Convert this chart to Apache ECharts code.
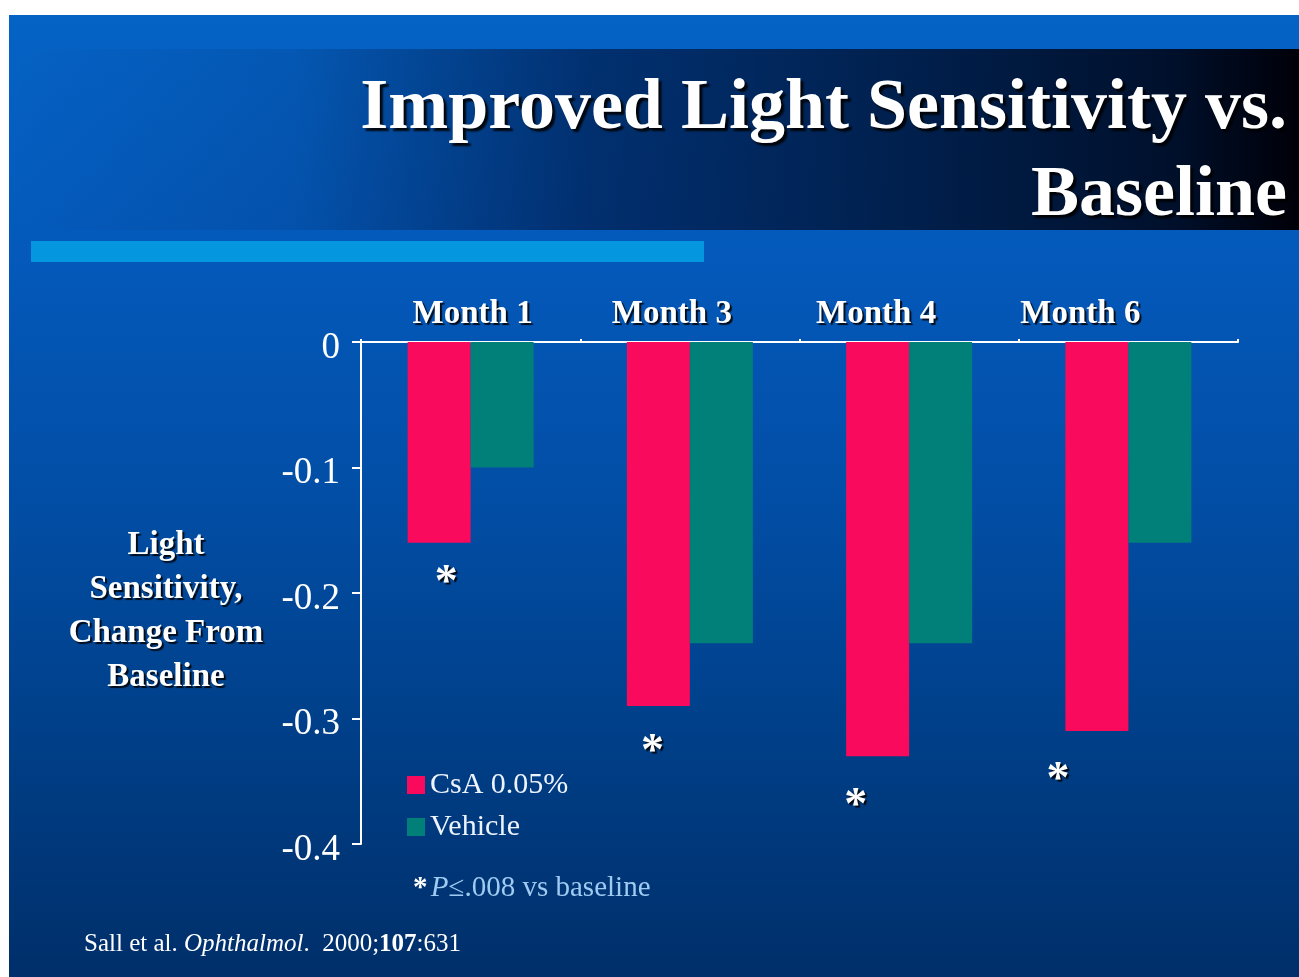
<!DOCTYPE html>
<html>
<head>
<meta charset="utf-8">
<title>Improved Light Sensitivity vs. Baseline</title>
<script src="https://cdn.jsdelivr.net/npm/echarts@6/dist/echarts.min.js"></script>
<style>
  html, body { margin: 0; padding: 0; background: #ffffff; }
  #chart { width: 1299px; height: 977px; }
</style>
</head>
<body>
<div id="chart"></div>
<script>
// Change from baseline in light sensitivity, by visit
const months = ['Month 1', 'Month 3', 'Month 4', 'Month 6'];
const csaValues = [-0.16, -0.29, -0.33, -0.31];
const vehicleValues = [-0.10, -0.24, -0.24, -0.16];
const seriesNames = ['CsA 0.05%', 'Vehicle'];
const yTicks = [0, -0.1, -0.2, -0.3, -0.4];

// significance marks sit under the CsA bars; small per-bar nudges [dx, dy]
const starNudge = [[7, 0], [-6, 6], [-22, 10], [-39, 9]];
// month headings drift left of their category centres (px)
const monthLabelShift = [2, -18, -33, -48];

const SERIF = '"Liberation Serif", "DejaVu Serif", serif';
const shadow = {
  textShadowColor: 'rgba(0,0,0,0.85)',
  textShadowOffsetX: 2,
  textShadowOffsetY: 2,
  textShadowBlur: 1
};
const titleStyle = {
  font: 'bold 72px ' + SERIF,
  fill: '#ffffff',
  textShadowColor: 'rgba(0,0,0,0.9)',
  textShadowOffsetX: 3,
  textShadowOffsetY: 3,
  textShadowBlur: 2
};

const chart = echarts.init(document.getElementById('chart'), null, { renderer: 'canvas' });

const option = {
  animation: false,
  backgroundColor: '#ffffff',
  graphic: {
    elements: [
      // slide background
      {
        type: 'rect', z: -100, silent: true,
        shape: { x: 9, y: 15, width: 1290, height: 962 },
        style: {
          fill: new echarts.graphic.LinearGradient(0, 0, 0, 1, [
            { offset: 0, color: '#0563c6' },
            { offset: 0.25, color: '#0459ba' },
            { offset: 0.5, color: '#024ea6' },
            { offset: 0.75, color: '#003f88' },
            { offset: 1, color: '#002f6a' }
          ])
        }
      },
      // title band
      {
        type: 'rect', z: -90, silent: true,
        shape: { x: 9, y: 49, width: 1290, height: 181 },
        style: {
          fill: new echarts.graphic.LinearGradient(0, 0, 1, 0, [
            { offset: 0, color: 'rgba(0,30,80,0)' },
            { offset: 0.22, color: 'rgba(0,30,80,0.15)' },
            { offset: 0.45, color: 'rgba(0,32,84,0.75)' },
            { offset: 0.7, color: 'rgba(0,28,70,0.95)' },
            { offset: 0.9, color: '#00102c' },
            { offset: 1, color: '#000008' }
          ])
        }
      },
      // accent stripe under the title
      {
        type: 'rect', z: -80, silent: true,
        shape: { x: 31, y: 241, width: 673, height: 21 },
        style: { fill: '#0496de' }
      },
      // title, two right-aligned lines
      {
        type: 'text', z: 100, silent: true,
        right: 12, top: 73,
        style: Object.assign({ text: 'Improved Light Sensitivity vs.' }, titleStyle)
      },
      {
        type: 'text', z: 100, silent: true,
        right: 12, top: 160,
        style: Object.assign({ text: 'Baseline' }, titleStyle)
      },
      // y axis title
      {
        type: 'text', z: 100, silent: true,
        x: 166, y: 523,
        style: {
          text: 'Light\nSensitivity,\nChange From\nBaseline',
          align: 'center',
          font: 'bold 33px ' + SERIF,
          lineHeight: 44,
          fill: '#ffffff',
          textShadowColor: 'rgba(0,0,0,0.85)',
          textShadowOffsetX: 2,
          textShadowOffsetY: 2,
          textShadowBlur: 1
        }
      },
      // significance footnote
      {
        type: 'text', z: 100, silent: true,
        x: 413, y: 874,
        style: {
          text: '{s|*} {i|P}{n|≤.008 vs baseline}',
          rich: {
            s: { font: 'bold 29px ' + SERIF, fill: '#ffffff' },
            i: { font: 'italic 29px ' + SERIF, fill: '#9fcaf2' },
            n: { font: '29px ' + SERIF, fill: '#9fcaf2' }
          }
        }
      },
      // citation
      {
        type: 'text', z: 100, silent: true,
        x: 84, y: 932,
        style: {
          text: '{r|Sall et al. }{i|Ophthalmol}{r|.  2000;}{b|107}{r|:631}',
          rich: {
            r: { font: '25px ' + SERIF, fill: '#ffffff' },
            i: { font: 'italic 25px ' + SERIF, fill: '#ffffff' },
            b: { font: 'bold 25px ' + SERIF, fill: '#ffffff' }
          }
        }
      }
    ]
  },
  legend: {
    data: seriesNames,
    orient: 'vertical',
    left: 402,
    top: 765,
    itemWidth: 18,
    itemHeight: 18,
    itemGap: 12,
    icon: 'rect',
    textStyle: { color: '#eef4ff', fontSize: 30, lineHeight: 24, fontFamily: SERIF }
  },
  grid: { left: 361, right: 61, top: 342, bottom: 133 },
  xAxis: {
    type: 'category',
    data: months.map((m, i) => {
      const s = monthLabelShift[i];
      return {
        value: m,
        textStyle: { padding: s < 0 ? [0, -2 * s, 0, 0] : [0, 0, 0, 2 * s] }
      };
    }),
    position: 'top',
    axisLine: { lineStyle: { color: '#ffffff', width: 2 } },
    axisTick: { show: true, length: 3, inside: false, lineStyle: { color: '#ffffff', width: 2 } },
    axisLabel: Object.assign({
      color: '#ffffff',
      fontSize: 33,
      fontWeight: 'bold',
      fontFamily: SERIF,
      margin: 11
    }, shadow),
    splitLine: { show: false }
  },
  yAxis: {
    type: 'value',
    min: -0.4,
    max: 0,
    interval: 0.1,
    axisLine: { show: true, lineStyle: { color: '#ffffff', width: 2 } },
    axisTick: { show: true, length: 9, lineStyle: { color: '#ffffff', width: 2 } },
    axisLabel: {
      color: '#ffffff',
      fontSize: 37,
      fontFamily: SERIF,
      margin: 21,
      formatter: v => {
        const t = Math.round(v * 10) / 10;
        return yTicks.indexOf(t) >= 0 ? '{v|' + t + '}' : '';
      },
      rich: {
        v: { fontSize: 37, fontFamily: SERIF, color: '#ffffff', padding: [12, 0, 0, 0] }
      }
    },
    splitLine: { show: false }
  },
  series: [
    {
      name: seriesNames[0],
      type: 'bar',
      barWidth: 63,
      barGap: '0%',
      itemStyle: { color: '#fa0a5c' },
      label: Object.assign({
        show: true,
        position: 'bottom',
        distance: 18,
        formatter: '*',
        color: '#ffffff',
        fontSize: 46,
        fontWeight: 'bold',
        fontFamily: SERIF
      }, shadow),
      data: csaValues.map((v, i) => ({ value: v, label: { offset: starNudge[i] } }))
    },
    {
      name: seriesNames[1],
      type: 'bar',
      barWidth: 63,
      barGap: '0%',
      itemStyle: { color: '#008079' },
      data: vehicleValues
    }
  ]
};

chart.setOption(option);
</script>
</body>
</html>
